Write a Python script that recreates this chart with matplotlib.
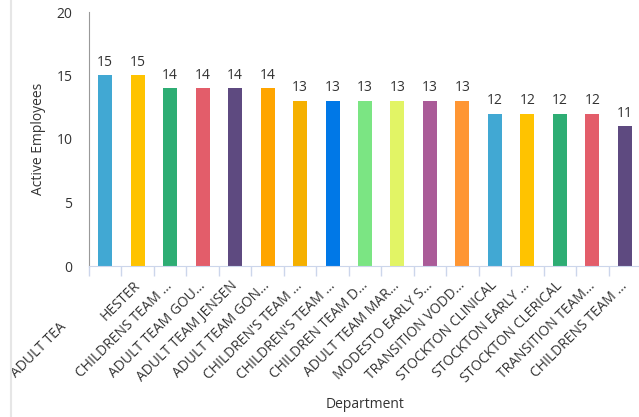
import matplotlib.pyplot as plt
import matplotlib.transforms as mtransforms
from matplotlib.lines import Line2D

plt.rcParams['font.family'] = ['Open Sans', 'DejaVu Sans']

departments = ['ADULT TEA', 'HESTER', 'CHILDRENS TEAM ...', 'ADULT TEAM GOU...',
               'ADULT TEAM JENSEN', 'ADULT TEAM GON...', "CHILDREN'S TEAM ...",
               "CHILDREN'S TEAM ...", 'CHILDREN TEAM D...', 'ADULT TEAM MAR...',
               'MODESTO EARLY S...', 'TRANSITION VODD...', 'STOCKTON CLINICAL',
               'STOCKTON EARLY ...', 'STOCKTON CLERICAL', 'TRANSITION TEAM...',
               'CHILDRENS TEAM ...']
employees = [15, 15, 14, 14, 14, 14, 13, 13, 13, 13, 13, 13, 12, 12, 12, 12, 11]
colors = ['#41a8d3', '#ffc300', '#2ead74', '#e35d6a', '#5e4a80', '#ffa500',
          '#f5b000', '#0078e7', '#7be583', '#e2f465', '#aa5b98', '#ff9633',
          '#41a8d3', '#ffc300', '#2ead74', '#e35d6a', '#5e4a80']

fig = plt.figure(figsize=(6.39, 4.17), dpi=100)
ax = fig.add_axes([89/639, 151/417, 552/639, 254/417])

x = range(len(departments))
bars = ax.bar(x, employees, width=0.43, color=colors)
for b, v in zip(bars, employees):
    ax.annotate(str(v), (b.get_x() + b.get_width()/2, v), xytext=(0, 4),
                textcoords='offset points', ha='center', va='bottom',
                fontsize=10, color='#333333')

ax.set_xlim(-0.5, len(departments) - 0.5)
ax.set_ylim(0, 20)
ax.set_yticks([0, 5, 10, 15, 20])
ax.tick_params(axis='y', length=0, pad=12, labelsize=10, labelcolor='#333333')

# category boundary ticks
ax.set_xticks([i - 0.5 for i in range(len(departments))])
ax.set_xticklabels([])
ax.tick_params(axis='x', which='major', length=7, color='#ccd6eb', width=1)
ax.set_xticks(list(x), minor=True)
ax.set_xticklabels(departments, minor=True, rotation=45, ha='right',
                   rotation_mode='anchor', fontsize=10, color='#333333')
ax.tick_params(axis='x', which='minor', length=0, pad=11)

# nudge labels a little up-left; the first one sits much lower in the original
for i, lab in enumerate(ax.xaxis.get_minorticklabels()):
    dx, dy = -0.05, 0.03
    if i == 0:
        dx, dy = dx - 0.41, dy - 0.41
    lab.set_transform(lab.get_transform() +
                      mtransforms.ScaledTranslation(dx, dy, fig.dpi_scale_trans))

for s in ['top', 'right']:
    ax.spines[s].set_visible(False)
ax.spines['left'].set_color('#999999')
ax.spines['bottom'].set_color('#ccd6eb')

ax.set_ylabel('Active Employees', fontsize=10, color='#333333')
ax.yaxis.set_label_coords(-43/552, 0.5)
fig.text(365/639, 1 - 405/417, 'Department', ha='center', va='center',
         fontsize=10, color='#333333')

fig.add_artist(Line2D([11/639, 11/639], [0, 1], color='#e6e6e6', lw=1.5))

fig.savefig('out.png', dpi=100)
